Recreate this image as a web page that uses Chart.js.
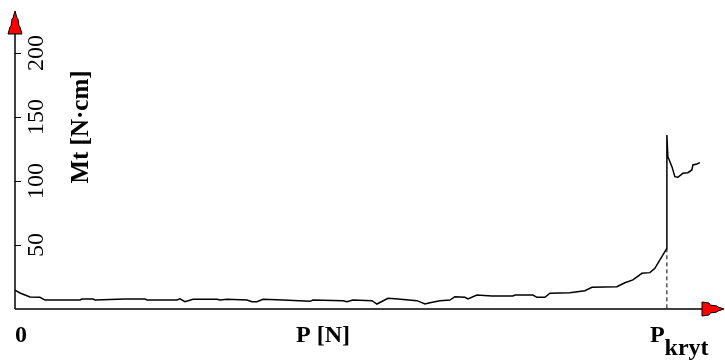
<!DOCTYPE html>
<html>
<head>
<meta charset="utf-8">
<script src="https://cdn.jsdelivr.net/npm/chart.js@4.4.1/dist/chart.umd.min.js"></script>
<style>
html,body{margin:0;padding:0;background:#fff;}
#wrap{width:725px;height:360px;position:relative;}
.pre{font-family:"Liberation Serif";position:absolute;left:-999px;}
</style>
</head>
<body>
<div class="pre">0 <b>P [N]</b></div>
<div id="wrap"><canvas id="c" width="725" height="360"></canvas></div>
<script>
// Load P (relative units, P_kryt = 100) and torque Mt [N·cm]
const pValues = [0, 0.77, 2.30, 3.83, 4.60, 9.97, 10.28, 11.96, 12.27, 16.87, 19.94, 20.25, 24.85, 25.31, 26.07, 27.30, 30.98, 31.44, 32.52, 35.58, 36.35, 37.12, 38.04, 41.10, 45.25, 45.71, 50.31, 50.92, 51.84, 54.75, 55.52, 57.21, 58.74, 61.66, 62.88, 63.65, 65.18, 66.72, 67.48, 69.02, 69.48, 70.86, 73.16, 76.38, 76.69, 79.45, 80.06, 81.29, 82.06, 85.12, 87.42, 88.50, 92.33, 93.56, 94.79, 96.17, 97.39, 98.16, 98.93, 99.69, 100, 100, 100.15, 100.77, 101.23, 101.69, 102.45, 103.22, 103.83, 103.99, 104.60, 105.06];
const mtValues = [14.8, 12.5, 9.4, 9.2, 7.0, 7.0, 7.8, 7.8, 7.0, 7.8, 7.8, 7.0, 7.0, 8.0, 5.7, 7.6, 7.6, 7.0, 7.6, 7.0, 5.7, 5.7, 7.6, 7.0, 6.0, 7.0, 6.5, 5.7, 7.0, 6.5, 3.9, 8.4, 7.8, 6.5, 3.9, 4.9, 6.5, 7.0, 9.6, 9.1, 7.8, 10.9, 10.2, 10.2, 10.9, 10.9, 9.1, 9.1, 12.3, 12.7, 14.3, 17.0, 17.4, 20.5, 22.7, 27.9, 28.4, 31.8, 38.3, 44.8, 47.4, 135.9, 119, 111.2, 103.4, 102.9, 106, 106.5, 108.6, 112.5, 113.3, 114.3];
const pKryt = 100;
const mtAtKryt = 47.4;
const yTicks = [50, 100, 150, 200];
const xLabels = ["0", "P [N]", "P", "kryt"];
const yTitle = "Mt [N·cm]";

const curve = pValues.map((p, i) => ({x: p, y: mtValues[i]}));
const dashed = [{x: pKryt, y: mtAtKryt}, {x: pKryt, y: 0}];
const SERIF = '"Liberation Serif", "Times New Roman", Times, serif';

const axesPlugin = {
  id: 'axesPlugin',
  afterDraw(chart) {
    const ctx = chart.ctx;
    const xs = chart.scales.x, ys = chart.scales.y;
    const x0 = xs.getPixelForValue(0);
    const y0 = ys.getPixelForValue(0);
    ctx.save();
    ctx.strokeStyle = '#000';
    ctx.lineWidth = 1.5;
    ctx.beginPath();
    ctx.moveTo(x0, y0);
    ctx.lineTo(x0, 34);
    ctx.stroke();
    ctx.beginPath();
    ctx.moveTo(x0, y0);
    ctx.lineTo(703, y0);
    ctx.stroke();
    ctx.fillStyle = '#ff0000';
    ctx.lineWidth = 1;
    ctx.beginPath();
    ctx.moveTo(x0, 11);
    ctx.lineTo(x0 + 2, 18);
    ctx.lineTo(x0 + 3, 19);
    ctx.lineTo(x0 + 4, 26);
    ctx.lineTo(x0 + 5, 27);
    ctx.lineTo(x0 + 7, 34);
    ctx.lineTo(x0 - 7, 34);
    ctx.lineTo(x0 - 5, 27);
    ctx.lineTo(x0 - 4, 26);
    ctx.lineTo(x0 - 3, 19);
    ctx.lineTo(x0 - 2, 18);
    ctx.closePath();
    ctx.fill();
    ctx.stroke();
    ctx.beginPath();
    ctx.moveTo(702, y0 - 7);
    ctx.lineTo(709, y0 - 6);
    ctx.lineTo(710, y0 - 4);
    ctx.lineTo(717, y0 - 3);
    ctx.lineTo(718, y0 - 2);
    ctx.lineTo(724, y0);
    ctx.lineTo(718, y0 + 2);
    ctx.lineTo(717, y0 + 3);
    ctx.lineTo(710, y0 + 4);
    ctx.lineTo(709, y0 + 6);
    ctx.lineTo(702, y0 + 7);
    ctx.closePath();
    ctx.fill();
    ctx.stroke();
    ctx.fillStyle = '#000';
    ctx.strokeStyle = '#000';
    ctx.lineWidth = 1;
    ctx.font = '24px ' + SERIF;
    ctx.textAlign = 'center';
    ctx.textBaseline = 'middle';
    yTicks.forEach(v => {
      const y = ys.getPixelForValue(v);
      ctx.beginPath();
      ctx.moveTo(x0, y + 0.5);
      ctx.lineTo(x0 + 6, y + 0.5);
      ctx.stroke();
      ctx.save();
      ctx.translate(x0 + 21, y);
      ctx.rotate(-Math.PI / 2);
      ctx.fillText(String(v), 0, 1);
      ctx.restore();
    });
    ctx.save();
    ctx.font = 'bold 25px ' + SERIF;
    ctx.translate(81, 127);
    ctx.rotate(-Math.PI / 2);
    ctx.fillText(yTitle, 0, 1);
    ctx.restore();
    ctx.font = 'bold 24px ' + SERIF;
    ctx.textBaseline = 'alphabetic';
    ctx.textAlign = 'center';
    ctx.fillText(xLabels[0], x0 + 6, 342);
    ctx.fillText(xLabels[1], 323, 342);
    const xk = xs.getPixelForValue(pKryt);
    ctx.textAlign = 'left';
    ctx.fillText(xLabels[2], xk - 17, 342);
    const wP = ctx.measureText(xLabels[2]).width;
    ctx.fillText(xLabels[3], xk - 17 + wP, 355);
    ctx.restore();
  }
};

function draw() {
  new Chart(document.getElementById('c'), {
    type: 'line',
    data: {
      datasets: [
        {data: curve, borderColor: '#000', borderWidth: 1.5, pointRadius: 0, tension: 0, fill: false},
        {data: dashed, borderColor: '#000', borderWidth: 1, borderDash: [4, 3], pointRadius: 0, fill: false}
      ]
    },
    options: {
      responsive: false,
      animation: false,
      events: [],
      layout: {padding: {left: 15, right: 19, top: 12, bottom: 51}},
      plugins: {legend: {display: false}, tooltip: {enabled: false}},
      scales: {
        x: {type: 'linear', min: 0, max: 106, display: false},
        y: {type: 'linear', min: 0, max: 232, display: false}
      }
    },
    plugins: [axesPlugin]
  });
}
Promise.all([
  document.fonts.load('24px "Liberation Serif"'),
  document.fonts.load('bold 24px "Liberation Serif"')
]).then(draw, draw);
</script>
</body>
</html>
